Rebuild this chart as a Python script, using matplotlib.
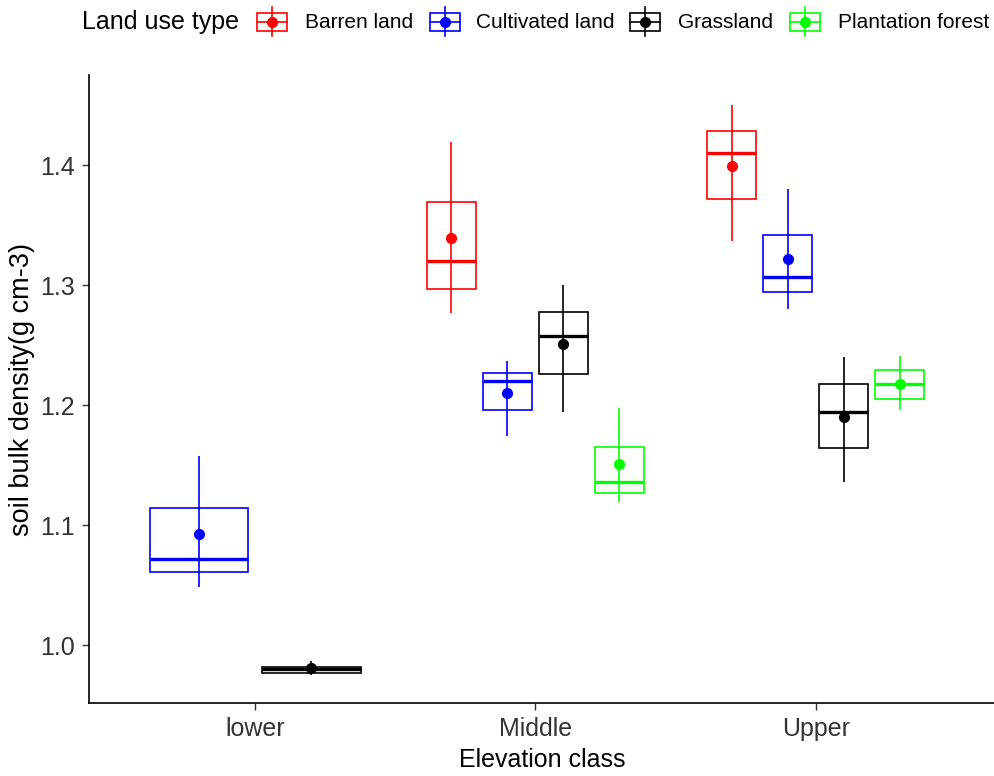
import numpy as np
import matplotlib.pyplot as plt
from matplotlib.patches import Rectangle

plt.rcParams['font.family'] = ['Liberation Sans', 'DejaVu Sans']

nan = np.nan
elevations = ["lower", "Middle", "Upper"]
land_uses = ["Barren land", "Cultivated land", "Grassland", "Plantation forest"]
colors = ["#FF0000", "#0000FF", "#000000", "#00FF00"]

# one row per land use, one column per elevation class
q1 = [[nan, 1.297, 1.372],
      [1.061, 1.196, 1.294],
      [0.977, 1.226, 1.164],
      [nan, 1.127, 1.205]]
median = [[nan, 1.320, 1.410],
          [1.072, 1.220, 1.307],
          [0.980, 1.258, 1.194],
          [nan, 1.136, 1.218]]
q3 = [[nan, 1.369, 1.428],
      [1.114, 1.227, 1.342],
      [0.982, 1.278, 1.218],
      [nan, 1.165, 1.229]]
mean = [[nan, 1.339, 1.399],
        [1.093, 1.210, 1.322],
        [0.981, 1.251, 1.190],
        [nan, 1.151, 1.218]]
err_lo = [[nan, 1.277, 1.337],
          [1.049, 1.174, 1.280],
          [0.975, 1.194, 1.136],
          [nan, 1.119, 1.196]]
err_hi = [[nan, 1.419, 1.450],
          [1.158, 1.237, 1.380],
          [0.987, 1.300, 1.240],
          [nan, 1.198, 1.241]]

fig = plt.figure(figsize=(9.95, 7.76), dpi=100)
ax = fig.add_axes([89 / 995, 1 - 703 / 776, 1 - 89 / 995, (703 - 75) / 776])

for j in range(len(elevations)):
    present = [i for i in range(len(land_uses)) if not np.isnan(mean[i][j])]
    n = len(present)
    slot = 0.8 / n
    for k, i in enumerate(present):
        xc = j + 1 + (k - (n - 1) / 2) * slot
        w = 0.88 * slot
        c = colors[i]
        ax.add_patch(Rectangle((xc - w / 2, q1[i][j]), w, q3[i][j] - q1[i][j],
                               fill=False, edgecolor=c, lw=1.2, zorder=2))
        ax.hlines(median[i][j], xc - w / 2, xc + w / 2, color=c, lw=2.4, zorder=3)
        ax.vlines(xc, err_lo[i][j], err_hi[i][j], color=c, lw=1.2, zorder=3)
        ax.plot(xc, mean[i][j], 'o', color=c, ms=7, zorder=4)

ax.set_xlim(0.407, 3.64)
ax.set_ylim(0.952, 1.475)
ax.set_xticks([1, 2, 3])
ax.set_xticklabels(elevations)
ax.set_yticks([1.0, 1.1, 1.2, 1.3, 1.4])
ax.set_yticklabels(["1.0", "1.1", "1.2", "1.3", "1.4"])
ax.tick_params(labelsize=18, labelcolor="#333333", length=5, width=1, color="#333333", pad=5)
for s in ["top", "right"]:
    ax.spines[s].set_visible(False)
for s in ["left", "bottom"]:
    ax.spines[s].set_linewidth(1.2)
ax.set_xlabel("Elevation class", fontsize=18, labelpad=5)
ax.set_ylabel("soil bulk density(g cm-3)", fontsize=19.5, labelpad=4)

# legend across the top, drawn in pixel space
lg = fig.add_axes([0, 0, 1, 1], zorder=5)
lg.set_xlim(0, 995)
lg.set_ylim(776, 0)
lg.axis("off")
lg.text(82, 22, "Land use type", fontsize=18, va="center", ha="left")
key_x = [272, 445, 645, 805]
text_x = [305, 476, 678, 838]
for i, lab in enumerate(land_uses):
    c = colors[i]
    kx = key_x[i]
    lg.add_patch(Rectangle((kx - 15, 13), 30, 18, fill=False, edgecolor=c, lw=1.2))
    lg.plot([kx - 15, kx + 15], [22, 22], color=c, lw=1.2)
    lg.plot([kx, kx], [7, 36], color=c, lw=1.2)
    lg.plot(kx, 22, 'o', color=c, ms=7)
    lg.text(text_x[i], 22, lab, fontsize=15, va="center", ha="left")

fig.savefig("out.png", dpi=100)
